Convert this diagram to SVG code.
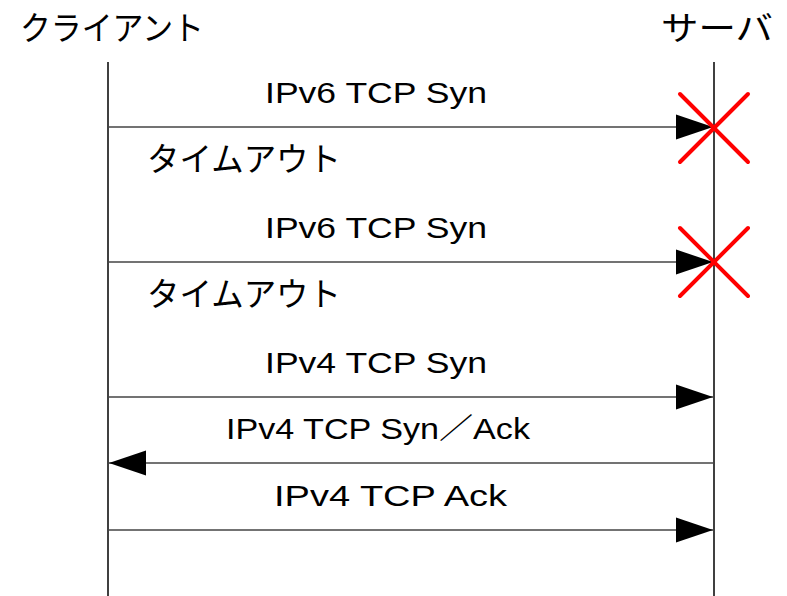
<svg xmlns="http://www.w3.org/2000/svg" width="787" height="596" viewBox="0 0 787 596">
<style>
text{font-family:"Noto Sans CJK JP","Liberation Sans",sans-serif;fill:#000}
.t{font-size:33px}
.m{font-size:29px;font-family:"Liberation Sans","Noto Sans CJK JP",sans-serif}
.life{stroke:#000;stroke-width:1.5;fill:none}
.msg{stroke:#444;stroke-width:1.5;fill:none}
.x{stroke:#f00;stroke-width:4;stroke-linecap:round}
</style>
<defs>
<marker id="ah" markerUnits="userSpaceOnUse" markerWidth="40" markerHeight="28" refX="38" refY="13" orient="auto">
<path d="M1,0.5 L38,13 L1,25.5 Z" fill="#000"/>
</marker>
</defs>
<g id="client">
<text class="t" x="20" y="40" textLength="184" lengthAdjust="spacingAndGlyphs">クライアント</text>
<line class="life" x1="108" y1="62" x2="108" y2="596"/>
</g>
<g id="server">
<text class="t" x="661" y="40" textLength="112" lengthAdjust="spacingAndGlyphs">サーバ</text>
<line class="life" x1="714" y1="62" x2="714" y2="596"/>
</g>
<g id="connectors">
<line class="msg" x1="108" y1="127" x2="713" y2="127" marker-end="url(#ah)"/>
<line class="msg" x1="108" y1="262" x2="713" y2="262" marker-end="url(#ah)"/>
<line class="msg" x1="108" y1="397" x2="713" y2="397" marker-end="url(#ah)"/>
<line class="msg" x1="714" y1="463" x2="109" y2="463" marker-end="url(#ah)"/>
<line class="msg" x1="108" y1="530" x2="713" y2="530" marker-end="url(#ah)"/>
</g>
<g id="labels">
<text class="m" x="265" y="103" textLength="222" lengthAdjust="spacingAndGlyphs">IPv6 TCP Syn</text>
<text class="t" x="147" y="171" textLength="194" lengthAdjust="spacingAndGlyphs">タイムアウト</text>
<text class="m" x="265" y="238" textLength="222" lengthAdjust="spacingAndGlyphs">IPv6 TCP Syn</text>
<text class="t" x="147" y="306" textLength="194" lengthAdjust="spacingAndGlyphs">タイムアウト</text>
<text class="m" x="265" y="373" textLength="222" lengthAdjust="spacingAndGlyphs">IPv4 TCP Syn</text>
<text class="m" x="226" y="439" textLength="304" lengthAdjust="spacingAndGlyphs">IPv4 TCP Syn／Ack</text>
<text class="m" x="274" y="506" textLength="233" lengthAdjust="spacingAndGlyphs">IPv4 TCP Ack</text>
</g>
<g id="fail1">
<line class="x" x1="680" y1="94" x2="748" y2="162"/>
<line class="x" x1="748" y1="94" x2="680" y2="162"/>
</g>
<g id="fail2">
<line class="x" x1="680" y1="228" x2="748" y2="296"/>
<line class="x" x1="748" y1="228" x2="680" y2="296"/>
</g>
</svg>
